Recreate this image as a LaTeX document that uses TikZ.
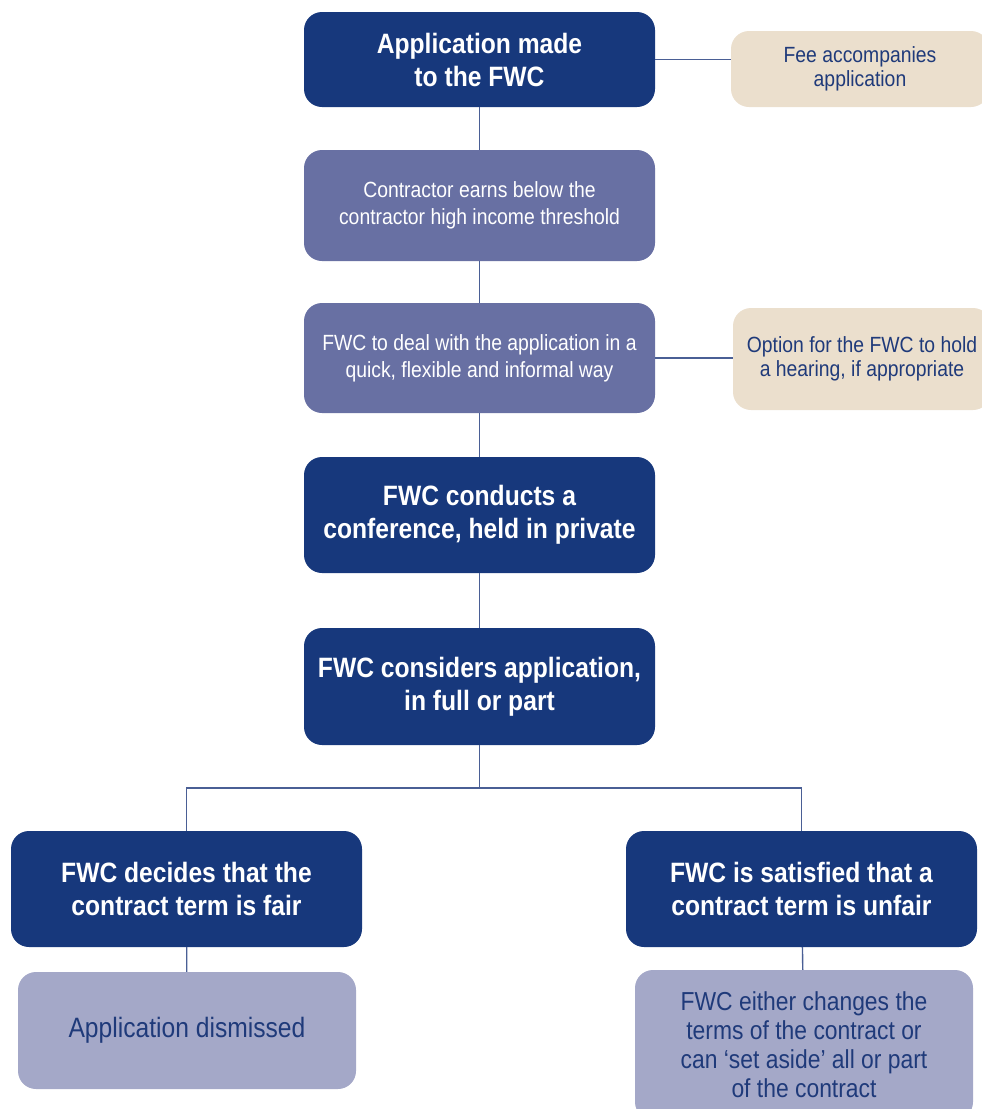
\documentclass[tikz,border=0pt]{standalone}
\usepackage{fontspec}
\setmainfont{Liberation Sans}[FakeStretch=0.88]
\usetikzlibrary{positioning}
\definecolor{fwcdark}{HTML}{17387C}
\definecolor{fwcmid}{HTML}{6870A3}
\definecolor{fwcpale}{HTML}{A4A8C8}
\definecolor{fwcnote}{HTML}{EBDFCD}
\definecolor{fwcline}{HTML}{4A5F95}
\definecolor{fwctext}{HTML}{1F3A7A}

\begin{document}
\begin{tikzpicture}[x=1pt, y=-1pt,
    box/.style={rounded corners=18pt, minimum width=351pt, align=center, inner sep=0pt},
    dark/.style={box, fill=fwcdark, text=white, minimum height=116pt, font=\bfseries\fontsize{28}{33}\selectfont},
    mid/.style={box, fill=fwcmid, text=white, minimum height=111pt, font=\fontsize{22}{27}\selectfont},
    note/.style={box, fill=fwcnote, text=fwctext, minimum width=258pt, font=\fontsize{22}{24}\selectfont},
    pale/.style={box, fill=fwcpale, text=fwctext, minimum width=338pt, font=\fontsize{26}{29}\selectfont},
    link/.style={draw=fwcline, line width=1.4pt}
]
\useasboundingbox (0,0) rectangle (982,1109);
\clip (0,0) rectangle (982,1109);

% main column
\node[dark, minimum height=95pt] (made) at (479.5,59.5) {Application made\\to the FWC};
\node[mid] (income) at (479.5,205.5) {Contractor earns below the\\contractor high income threshold};
\node[mid, minimum height=110pt] (quick) at (479.5,358) {FWC to deal with the application in a\\quick, flexible and informal way};
\node[dark] (conf) at (479.5,515) {FWC conducts a\\conference, held in private};
\node[dark, minimum height=117pt] (consider) at (479.5,686.5) {FWC considers application,\\in full or part};

% side notes
\node[note, minimum height=76pt] (fee) at (860,69) {Fee accompanies\\application};
\node[note, minimum height=102pt] (hearing) at (862,359) {Option for the FWC to hold\\a hearing, if appropriate};

% outcomes
\node[dark] (fair) at (186.5,889) {FWC decides that the\\contract term is fair};
\node[dark] (unfair) at (801.5,889) {FWC is satisfied that a\\contract term is unfair};
\node[pale, minimum height=117pt, font=\fontsize{28}{31}\selectfont] (dismiss) at (187,1030.5) {Application dismissed};
\node[pale, minimum height=150pt] (change) at (804,1045) {FWC either changes the\\terms of the contract or\\can `set aside' all or part\\of the contract};

\coordinate (split) at (479.5,788);

\draw[link] (made) -- (income);
\draw[link] (income) -- (quick);
\draw[link] (quick) -- (conf);
\draw[link] (conf) -- (consider);
\draw[link] (made.east) -- (made.east -| fee.west);
\draw[link] (quick.east) -- (quick.east -| hearing.west);
\draw[link] (consider) -- (split);
\draw[link] (split) -| (fair.north);
\draw[link] (split) -| (unfair.north);
\draw[link] (fair) -- (dismiss);
\draw[link] (unfair) -- (change);
\end{tikzpicture}
\end{document}
